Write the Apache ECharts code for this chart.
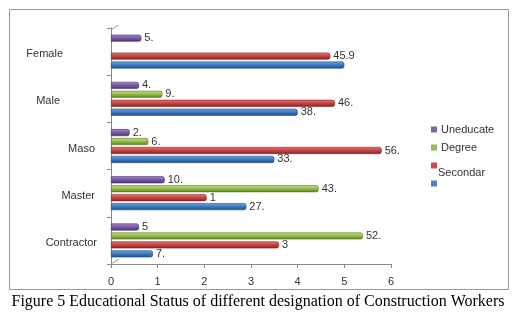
<!DOCTYPE html>
<html><head><meta charset="utf-8">
<script src="https://cdn.jsdelivr.net/npm/echarts@6/dist/echarts.min.js"></script>
<style>html,body{margin:0;padding:0;background:#fff}#c{width:516px;height:327px}</style>
</head><body><div id="c"></div>
<script>
var categories = ['Contractor', 'Master', 'Maso', 'Male', 'Female'];
var xTicks = [0, 1, 2, 3, 4, 5, 6];
var uneducate = [0.6, 1.15, 0.4, 0.6, 0.65];
var degree = [5.4, 4.45, 0.8, 1.1, null];
var redSeries = [3.6, 2.05, 5.8, 4.8, 4.7];
var secondar = [0.9, 2.9, 3.5, 4.0, 5.0];
var uneducateLabels = ['5', '10.', '2.', '4.', '5.'];
var degreeLabels = ['52.', '43.', '6.', '9.', ''];
var redLabels = ['3', '1', '56.', '46.', '45.9'];
var secondarLabels = ['7.', '27.', '33.', '38.', ''];
var legendNames = ['Uneducate', 'Degree', ' ', 'Secondar'];
var caption = 'Figure 5 Educational Status of different designation of Construction Workers';

function grad(light, base, dark) {
  return new echarts.graphic.LinearGradient(0, 0, 0, 1, [
    {offset: 0, color: light}, {offset: 0.45, color: base}, {offset: 1, color: dark}
  ]);
}
var styles = [
  {c: '#8064a2', g: grad('#a58bc7', '#7c5ca8', '#4f3573'), b: '#4a3170'},
  {c: '#9bbb59', g: grad('#c2de86', '#98c04a', '#5f7e25'), b: '#5b7a22'},
  {c: '#c0504d', g: grad('#e07f7c', '#cb4646', '#8a2323'), b: '#842222'},
  {c: '#4f81bd', g: grad('#7aa7dc', '#3e7cc4', '#1f4f87'), b: '#1d4a80'}
];
var dataSets = [uneducate, degree, redSeries, secondar];
var labelSets = [uneducateLabels, degreeLabels, redLabels, secondarLabels];
var series = dataSets.map(function (d, i) {
  return {
    name: legendNames[i], type: 'bar', data: d, barWidth: 7, barGap: '28%',
    itemStyle: {color: styles[i].g, borderColor: styles[i].b, borderWidth: 0.6, borderRadius: [0, 2, 2, 0]},
    label: {show: true, position: 'right', distance: 3, fontFamily: 'Liberation Sans', fontSize: 11, color: '#333',
      padding: [3, 0, 0, 0],
      formatter: (function (labs) { return function (p) { return labs[p.dataIndex]; }; })(labelSets[i])},
    animation: false
  };
});
var legendTops = [119, 137, 155, 173];
var legends = legendNames.map(function (n, i) {
  return {
    data: [{name: n, itemStyle: {color: styles[i].c, borderWidth: 0}}], left: 426, top: legendTops[i], orient: 'vertical',
    itemWidth: 6, itemHeight: 6, itemGap: 4, icon: 'rect',
    itemStyle: {borderWidth: 0},
    textStyle: {fontFamily: 'Liberation Sans', fontSize: 11, color: '#333', padding: [0, 0, 0, -1]},
    formatter: function (name) { return (name === 'Uneducate' || name === 'Degree') ? name : ' '; },
    selectedMode: false
  };
});
var labelPad = {Female: 34, Male: 37, Maso: 2, Master: 2, Contractor: 0};
var chart = echarts.init(document.getElementById('c'), null, {renderer: 'canvas'});
chart.setOption({
  animation: false,
  grid: {left: 111, right: 125, top: 28, bottom: 63},
  legend: legends,
  xAxis: {
    type: 'value', min: xTicks[0], max: xTicks[xTicks.length - 1], interval: 1,
    axisLine: {show: true, lineStyle: {color: '#888'}},
    axisTick: {show: true, length: 4, lineStyle: {color: '#888'}},
    splitLine: {show: false},
    axisLabel: {margin: 12, fontFamily: 'Liberation Sans', fontSize: 11, color: '#333'}
  },
  yAxis: {
    type: 'category', data: categories,
    axisLine: {show: true, lineStyle: {color: '#888'}},
    axisTick: {show: true, length: 4, lineStyle: {color: '#888'}},
    axisLabel: {
      margin: 14, fontFamily: 'Liberation Sans', fontSize: 11, color: '#333',
      formatter: function (v) { return '{' + v + '|' + v + '}'; },
      rich: (function () { var r = {}; Object.keys(labelPad).forEach(function (k) {
        r[k] = {fontFamily: 'Liberation Sans', fontSize: 11, color: '#333', padding: [5, labelPad[k], 0, 0]}; }); return r; })()
    }
  },
  series: series,
  graphic: [
    {type: 'rect', shape: {x: 9.5, y: 9.5, width: 499, height: 280}, style: {fill: 'none', stroke: '#999', lineWidth: 1}, z: -1},
    {type: 'line', shape: {x1: 111, y1: 30, x2: 118, y2: 25}, style: {stroke: '#999', lineWidth: 1}},
    {type: 'line', shape: {x1: 111, y1: 264, x2: 119, y2: 259}, style: {stroke: '#999', lineWidth: 1}},
    {type: 'text', left: 438, top: 167, style: {text: 'Secondar', font: '11px "Liberation Sans"', fill: '#333'}},
    {type: 'text', left: 'center', top: 294, style: {text: caption, font: '16px "Liberation Serif"', fill: '#000'}}
  ]
});
</script></body></html>
